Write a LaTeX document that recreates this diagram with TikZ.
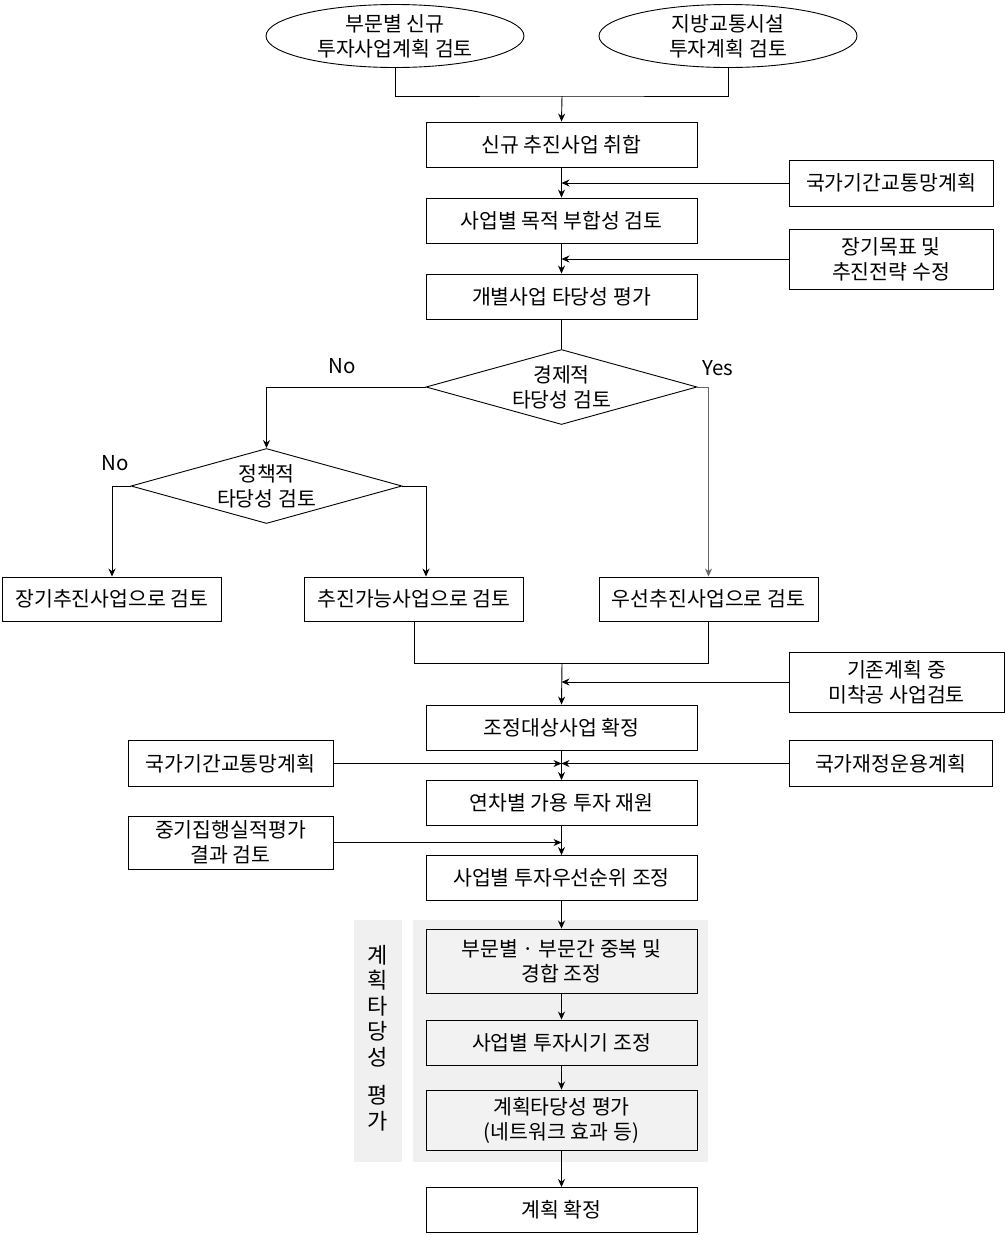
\documentclass[tikz,border=0pt]{standalone}
\usepackage{fontspec}
\setmainfont{Noto Sans CJK KR}
\usetikzlibrary{shapes.geometric,arrows.meta}
\newcommand\krf{\fontsize{20.5}{25}\selectfont}
\tikzset{
  every node/.style={font=\krf},
  ln/.style={line width=0.9pt, draw=black},
  arr/.style={ln, -{Stealth[length=8pt,width=7pt]}},
  mainbox/.style={draw, line width=0.9pt, rectangle, minimum width=271pt, minimum height=45pt, inner sep=2pt, align=center},
  tallbox/.style={mainbox, minimum height=64pt},
  sidebox/.style={draw, line width=0.9pt, rectangle, minimum width=204pt, minimum height=46pt, inner sep=2pt, align=center},
  outbox/.style={draw, line width=0.9pt, rectangle, minimum width=219pt, minimum height=44pt, inner sep=2pt, align=center},
  oval/.style={draw, line width=0.9pt, ellipse, minimum width=258pt, minimum height=63pt, inner sep=0pt, align=center},
  decision/.style={draw, line width=0.9pt, diamond, aspect=3.6, minimum width=271pt, minimum height=75pt, inner sep=0pt, align=center},
  lbl/.style={inner sep=0pt}
}
\begin{document}
\begin{tikzpicture}[x=1pt,y=-1pt]
\useasboundingbox (0,0) rectangle (1006,1235);
% grey panels
\fill[black!6] (354,920) rectangle (402,1162);
\fill[black!6] (413,920) rectangle (708,1162);
% top ovals
\node[oval] (e1) at (395,36) {부문별 신규\\투자사업계획 검토};
\node[oval] (e2) at (728,36) {지방교통시설\\투자계획 검토};
\coordinate (j1) at (562,96);
% main column
\node[mainbox] (b1) at (561.5,144.5) {신규 추진사업 취합};
\node[mainbox] (b2) at (561.5,220.5) {사업별 목적 부합성 검토};
\node[mainbox] (b3) at (561.5,296.5) {개별사업 타당성 평가};
\node[decision] (d1) at (561.5,387) {경제적\\타당성 검토};
\node[decision] (d2) at (266.5,486) {정책적\\타당성 검토};
\node[outbox] (o1) at (112,599) {장기추진사업으로 검토};
\node[outbox] (o2) at (414,599) {추진가능사업으로 검토};
\node[outbox] (o3) at (708.5,599) {우선추진사업으로 검토};
\coordinate (j2) at (562,663);
\node[mainbox] (b4) at (561.5,727.5) {조정대상사업 확정};
\node[mainbox] (b5) at (561.5,803) {연차별 가용 투자 재원};
\node[mainbox] (b6) at (561.5,878) {사업별 투자우선순위 조정};
\node[tallbox, fill=black!5] (b7) at (561.5,961) {부문별 · 부문간 중복 및\\경합 조정};
\node[mainbox, fill=black!5] (b8) at (561.5,1042.5) {사업별 투자시기 조정};
\node[tallbox, minimum height=60pt, fill=black!5] (b9) at (561.5,1120) {계획타당성 평가\\(네트워크 효과 등)};
\node[mainbox] (b10) at (561.5,1210) {계획 확정};
% side boxes
\node[sidebox] (s1) at (891,183) {국가기간교통망계획};
\node[sidebox, minimum height=60pt] (s2) at (891,259) {장기목표 및\\추진전략 수정};
\node[sidebox, minimum width=215pt, minimum height=60pt] (s3) at (896.5,682) {기존계획 중\\미착공 사업검토};
\node[sidebox, minimum width=205pt] (s4) at (230.5,763.5) {국가기간교통망계획};
\node[sidebox, minimum width=203pt] (s5) at (890.5,763.5) {국가재정운용계획};
\node[sidebox, minimum width=205pt, minimum height=53pt] (s6) at (230.5,842.5) {중기집행실적평가\\결과 검토};
% vertical label
\node[lbl, align=center, font=\fontsize{22}{25.5}\selectfont] (vl) at (378,1038) {계\\획\\타\\당\\성\\[13pt]평\\가};
% yes/no labels
\node[lbl] (n1) at (342,366) {No};
\node[lbl] (n2) at (115,463) {No};
\node[lbl] (y1) at (718,368) {Yes};
% connectors
\draw[ln] (e1.south) |- (j1) -| (e2.south);
\draw[arr] (j1) -- (b1.north);
\draw[arr] (b1) -- (b2);
\draw[arr] (b2) -- (b3);
\draw[ln] (b3.south) -- (d1.north);
\draw[arr] (s1.west) -- (s1.west -| b1.south);
\draw[arr] (s2.west) -- (s2.west -| b2.south);
\draw[arr] (d1.west) -| (d2.north);
\draw[arr, draw=black!60] (d1.east) -| (o3.north);
\draw[arr] (d2.west) -| (o1.north);
\draw[arr] (d2.east) -| ([xshift=12pt]o2.north);
\draw[ln] (o2.south) |- (j2) -| (o3.south);
\draw[arr] (j2) -- (b4.north);
\draw[arr] (s3.west) -- (s3.west -| b4.north);
\draw[arr] (b4) -- (b5);
\draw[arr] (s4.east) -- (s4.east -| b4.south);
\draw[arr] (s5.west) -- (s5.west -| b4.south);
\draw[arr] (b5) -- (b6);
\draw[arr] (s6.east) -- (s6.east -| b5.south);
\draw[arr] (b6) -- (b7);
\draw[arr] (b7) -- (b8);
\draw[arr] (b8) -- (b9);
\draw[arr] (b9) -- (b10);
\end{tikzpicture}
\end{document}
